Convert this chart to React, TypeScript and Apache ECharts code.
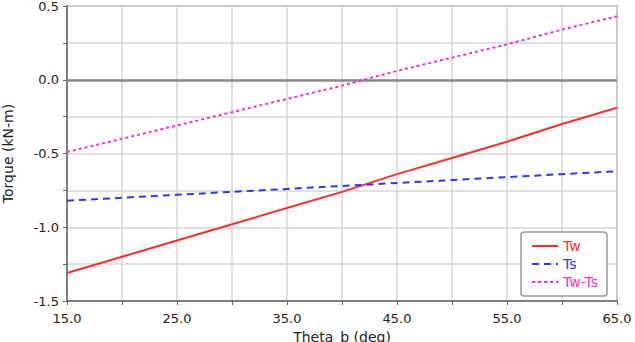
import React, { useEffect, useRef } from "react";
import * as echarts from "echarts";

const thetaB = [15, 20, 25, 30, 35, 40, 45, 50, 55, 60, 65];
const tw = [-1.31, -1.2, -1.09, -0.98, -0.87, -0.76, -0.64, -0.53, -0.42, -0.3, -0.19];
const ts = [-0.82, -0.8, -0.78, -0.76, -0.74, -0.72, -0.7, -0.68, -0.66, -0.64, -0.62];
const twMinusTs = [-0.49, -0.4, -0.31, -0.22, -0.13, -0.04, 0.06, 0.15, 0.24, 0.34, 0.43];

const seriesNames = ["Tw", "Ts", "Tw-Ts"];
const seriesColors = ["#ff2e2e", "#3535f2", "#ff2fc4"];
const seriesDash: any[] = ["solid", [7, 5], [3, 3]];

const FONT = "DejaVu Sans";

export default function App() {
  const ref = useRef<HTMLDivElement>(null);
  useEffect(() => {
    if (!ref.current) return;
    const chart = echarts.init(ref.current, undefined, { renderer: "svg" });
    const pairs = (ys: number[]) => thetaB.map((x, i) => [x, ys[i]]);
    chart.setOption({
      animation: false,
      backgroundColor: "#ffffff",
      grid: {
        left: 67,
        right: 18,
        top: 6,
        bottom: 41,
        show: true,
        borderColor: "#8a8a8a",
        borderWidth: 1.5,
        outerBoundsMode: "none",
        containLabel: false,
      },
      xAxis: {
        type: "value",
        min: 15,
        max: 65,
        interval: 5,
        name: "Theta_b (deg)",
        nameLocation: "middle",
        nameGap: 29,
        nameTextStyle: { fontFamily: FONT, fontSize: 14, color: "#222" },
        axisLine: { show: true, onZero: false, lineStyle: { color: "#666", width: 1.5 } },
        axisTick: { show: true, length: 4, lineStyle: { color: "#666" } },
        axisLabel: {
          fontFamily: FONT,
          fontSize: 13,
          color: "#222",
          margin: 11,
          formatter: (v: number) => (Math.abs((v - 15) % 10) < 1e-6 ? v.toFixed(1) : ""),
        },
        splitLine: { show: true, lineStyle: { color: "#d6d6d6", width: 1.5 } },
      },
      yAxis: {
        type: "value",
        min: -1.5,
        max: 0.5,
        interval: 0.25,
        name: "Torque (kN-m)",
        nameLocation: "middle",
        nameGap: 52,
        nameTextStyle: { fontFamily: FONT, fontSize: 14, color: "#222" },
        axisLine: { show: true, onZero: false, lineStyle: { color: "#666", width: 1.5 } },
        axisTick: { show: true, length: 4, lineStyle: { color: "#666" } },
        axisLabel: {
          fontFamily: FONT,
          fontSize: 13,
          color: "#222",
          margin: 8,
          formatter: (v: number) =>
            Math.abs(v * 2 - Math.round(v * 2)) < 1e-6 ? (Math.abs(v) < 1e-9 ? "0.0" : v.toFixed(1)) : "",
        },
        splitLine: { show: true, lineStyle: { color: "#d6d6d6", width: 1.5 } },
      },
      legend: {
        orient: "vertical",
        right: 28,
        bottom: 46,
        backgroundColor: "#ffffff",
        borderColor: "#9a9a9a",
        borderWidth: 1.5,
        borderRadius: 3,
        padding: [7, 9, 7, 10],
        itemWidth: 26,
        itemHeight: 14,
        itemGap: 4,
        itemStyle: { opacity: 0 },
        data: seriesNames.map((n, i) => ({
          name: n,
          itemStyle: { opacity: 0 },
          lineStyle: { color: seriesColors[i], width: 2, type: seriesDash[i] },
          textStyle: { color: seriesColors[i], fontFamily: FONT, fontSize: 14 },
        })),
      },
      series: [
        {
          name: seriesNames[0],
          type: "line",
          data: pairs(tw),
          symbol: "none",
          z: 4,
          lineStyle: { color: seriesColors[0], width: 2, type: seriesDash[0] },
          itemStyle: { color: seriesColors[0] },
          markLine: {
            silent: true,
            symbol: "none",
            label: { show: false },
            lineStyle: { color: "#8a8a8a", width: 2.5, type: "solid" },
            data: [{ yAxis: 0 }],
            z: 2,
          },
        },
        {
          name: seriesNames[1],
          type: "line",
          data: pairs(ts),
          symbol: "none",
          z: 4,
          lineStyle: { color: seriesColors[1], width: 2, type: seriesDash[1] },
          itemStyle: { color: seriesColors[1] },
        },
        {
          name: seriesNames[2],
          type: "line",
          data: pairs(twMinusTs),
          symbol: "none",
          z: 4,
          lineStyle: { color: seriesColors[2], width: 2, type: seriesDash[2] },
          itemStyle: { color: seriesColors[2] },
        },
      ],
    });
    return () => chart.dispose();
  }, []);
  return <div ref={ref} style={{ width: 635, height: 342, position: "absolute", left: 0, top: 0 }} />;
}
